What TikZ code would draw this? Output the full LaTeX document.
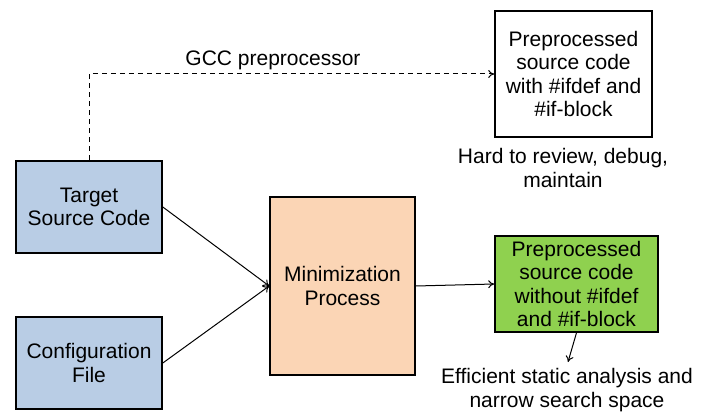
\documentclass[tikz,border=0pt]{standalone}
\usepackage{fontspec}
\setmainfont{Liberation Sans}
\usetikzlibrary{arrows.meta}
\definecolor{inblue}{HTML}{B9CDE5}
\definecolor{procpeach}{HTML}{FBD5B5}
\definecolor{outgreen}{HTML}{8FD14F}
\tikzset{
  every node/.style={font=\fontsize{21}{23.5}\selectfont, align=center, inner sep=0pt},
  box/.style={draw=black, line width=1.6pt, rectangle},
  link/.style={-{To[length=6pt,width=8pt]}, line width=1pt},
}
\begin{document}
\begin{tikzpicture}[x=1pt,y=-1pt]
\useasboundingbox (0,0) rectangle (713,412);
% input files
\node[box, fill=inblue, minimum width=146pt, minimum height=92pt] (tgt) at (89,207) {Target\\Source Code};
\node[box, fill=inblue, minimum width=146pt, minimum height=92pt] (conf) at (89,363) {Configuration\\File};
% minimization step
\node[box, fill=procpeach, minimum width=145pt, minimum height=178pt] (mini) at (342.5,286) {Minimization\\Process};
% outputs
\node[box, fill=white, minimum width=157pt, minimum height=126pt] (full) at (573.5,74) {Preprocessed\\source code\\with \#ifdef and\\\#if-block};
\node[box, fill=outgreen, minimum width=163pt, minimum height=96pt] (mini-out) at (576.5,284) {Preprocessed\\source code\\without \#ifdef\\and \#if-block};
% annotations
\node (gcc) at (273,60) {GCC preprocessor};
\node (hard) at (563,168) {Hard to review, debug,\\maintain};
\node (eff) at (567,390) {Efficient static analysis and\\narrow search space};
\coordinate (effend) at (568,362);
% connectors
\draw[link, dashed, dash pattern=on 5pt off 4pt] (tgt.north) |- (full.west);
\draw[link] (tgt.east) -- (mini.west);
\draw[link] (conf.east) -- (mini.west);
\draw[link] (mini.east) -- (mini-out.west);
\draw[link] (mini-out.south) -- (effend);
\end{tikzpicture}
\end{document}
